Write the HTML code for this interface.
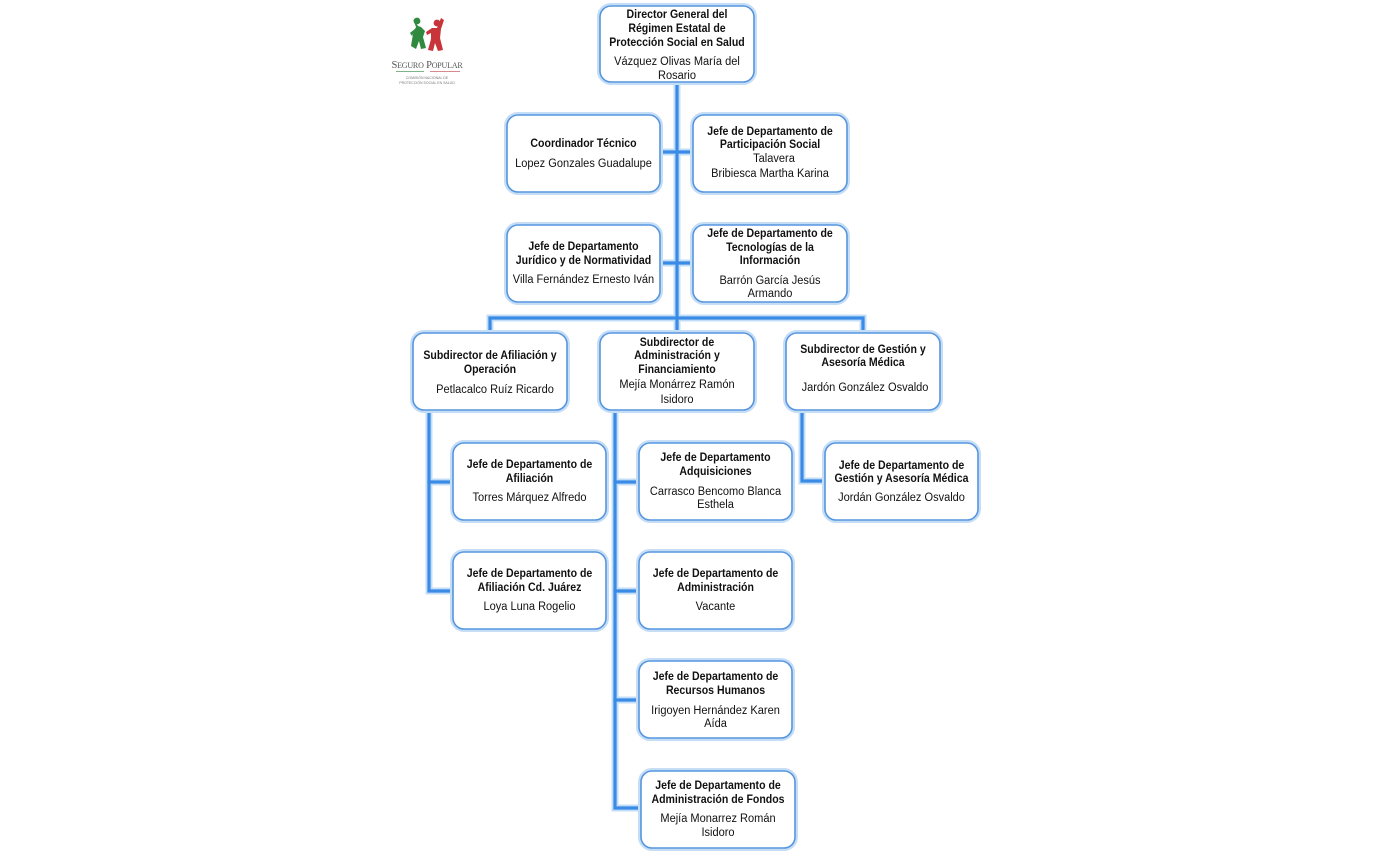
<!DOCTYPE html>
<html>
<head>
<meta charset="utf-8">
<style>
html,body{margin:0;padding:0;background:#fff;}
svg{display:block;}
.b{font-family:"Liberation Sans",Arial,sans-serif;font-weight:bold;font-size:12px;fill:#111;text-anchor:middle;}
.r{font-family:"Liberation Sans",Arial,sans-serif;font-size:12px;fill:#111;text-anchor:middle;}
.glow{fill:none;stroke:#c3dcf7;stroke-width:7;stroke-linecap:square;}
.core{fill:none;stroke:#3a8be6;stroke-width:3.2;stroke-linecap:square;}
.bg{fill:#fff;stroke:#c6ddf6;stroke-width:6;}
.bx{fill:#fff;stroke:#5596df;stroke-width:1.6;}
</style>
</head>
<body>
<svg width="1392" height="854" viewBox="0 0 1392 854" xmlns="http://www.w3.org/2000/svg">
<!-- logo -->
<g>
  <circle cx="417" cy="21" r="3.4" fill="#2f8a3f"/>
  <path d="M413,19 L416,27 L413,34 L411,46 L416,49 L419,41 L421,49 L426,48 L423,37 L425,31 L421,27 L418,26 Z" fill="#2f8a3f"/>
  <path d="M416,28 L410,33 L412,36 Z" fill="#2f8a3f"/>
  <circle cx="437" cy="23" r="3.4" fill="#c7353b"/>
  <path d="M441,18 L444,20 L441,29 L440,38 L443,50 L438,51 L435,43 L433,51 L428,50 L431,39 L431,33 L427,35 L426,32 L432,28 L437,28 Z" fill="#c7353b"/>
  <text x="427" y="68" style="font-family:'Liberation Serif',serif;font-size:10.5px;fill:#555;text-anchor:middle;letter-spacing:-0.2px">S<tspan font-size="8">EGURO</tspan> P<tspan font-size="8">OPULAR</tspan></text>
  <line x1="396" y1="71.5" x2="424" y2="71.5" stroke="#7fb38a" stroke-width="1"/>
  <line x1="430" y1="71.5" x2="460" y2="71.5" stroke="#d98a8d" stroke-width="1"/>
  <text x="427" y="79" style="font-family:'Liberation Sans',sans-serif;font-size:3.5px;fill:#777;text-anchor:middle">COMISIÓN NACIONAL DE</text>
  <text x="427" y="84" style="font-family:'Liberation Sans',sans-serif;font-size:3.5px;fill:#777;text-anchor:middle">PROTECCIÓN SOCIAL EN SALUD</text>
</g>

<!-- connectors glow -->
<g class="glow">
  <path d="M677,82 V333"/>
  <path d="M660,152 H693"/>
  <path d="M660,263 H693"/>
  <path d="M490,333 V318 H863 V333"/>
  <path d="M429,410 V591 H453"/>
  <path d="M429,482 H453"/>
  <path d="M615,410 V808 H641"/>
  <path d="M615,482 H639"/>
  <path d="M615,591 H639"/>
  <path d="M615,700 H639"/>
  <path d="M802,410 V481 H825"/>
</g>
<g class="core">
  <path d="M677,82 V333"/>
  <path d="M660,152 H693"/>
  <path d="M660,263 H693"/>
  <path d="M490,333 V318 H863 V333"/>
  <path d="M429,410 V591 H453"/>
  <path d="M429,482 H453"/>
  <path d="M615,410 V808 H641"/>
  <path d="M615,482 H639"/>
  <path d="M615,591 H639"/>
  <path d="M615,700 H639"/>
  <path d="M802,410 V481 H825"/>
</g>

<!-- boxes glow -->
<g class="bg">
  <rect x="600" y="6" width="154" height="76" rx="11"/>
  <rect x="507" y="115" width="153" height="77" rx="11"/>
  <rect x="693" y="115" width="154" height="77" rx="11"/>
  <rect x="507" y="225" width="153" height="77" rx="11"/>
  <rect x="693" y="225" width="154" height="77" rx="11"/>
  <rect x="413" y="333" width="154" height="77" rx="11"/>
  <rect x="600" y="333" width="154" height="77" rx="11"/>
  <rect x="786" y="333" width="154" height="77" rx="11"/>
  <rect x="453" y="443" width="153" height="77" rx="11"/>
  <rect x="453" y="552" width="153" height="77" rx="11"/>
  <rect x="639" y="443" width="153" height="77" rx="11"/>
  <rect x="639" y="552" width="153" height="77" rx="11"/>
  <rect x="639" y="661" width="153" height="77" rx="11"/>
  <rect x="641" y="771" width="154" height="77" rx="11"/>
  <rect x="825" y="443" width="153" height="77" rx="11"/>
</g>
<g class="bx">
  <rect x="600" y="6" width="154" height="76" rx="11"/>
  <rect x="507" y="115" width="153" height="77" rx="11"/>
  <rect x="693" y="115" width="154" height="77" rx="11"/>
  <rect x="507" y="225" width="153" height="77" rx="11"/>
  <rect x="693" y="225" width="154" height="77" rx="11"/>
  <rect x="413" y="333" width="154" height="77" rx="11"/>
  <rect x="600" y="333" width="154" height="77" rx="11"/>
  <rect x="786" y="333" width="154" height="77" rx="11"/>
  <rect x="453" y="443" width="153" height="77" rx="11"/>
  <rect x="453" y="552" width="153" height="77" rx="11"/>
  <rect x="639" y="443" width="153" height="77" rx="11"/>
  <rect x="639" y="552" width="153" height="77" rx="11"/>
  <rect x="639" y="661" width="153" height="77" rx="11"/>
  <rect x="641" y="771" width="154" height="77" rx="11"/>
  <rect x="825" y="443" width="153" height="77" rx="11"/>
</g>

<!-- texts -->
<text class="b" transform="translate(677,18) scale(0.88,1)">Director General del</text>
<text class="b" transform="translate(677,32) scale(0.88,1)">Régimen Estatal de</text>
<text class="b" transform="translate(677,46) scale(0.88,1)">Protección Social en Salud</text>
<text class="r" transform="translate(677,65) scale(0.92,1)">Vázquez Olivas María del</text>
<text class="r" transform="translate(677,79) scale(0.92,1)">Rosario</text>

<text class="b" transform="translate(583.5,147) scale(0.88,1)">Coordinador Técnico</text>
<text class="r" transform="translate(583.5,167) scale(0.92,1)">Lopez Gonzales Guadalupe</text>

<text class="b" transform="translate(770,135) scale(0.88,1)">Jefe de Departamento de</text>
<text class="b" transform="translate(770,148) scale(0.88,1)">Participación Social</text>
<text class="r" transform="translate(774,162) scale(0.92,1)">Talavera</text>
<text class="r" transform="translate(770,177) scale(0.92,1)">Bribiesca Martha Karina</text>

<text class="b" transform="translate(583.5,250) scale(0.88,1)">Jefe de Departamento</text>
<text class="b" transform="translate(583.5,264) scale(0.88,1)">Jurídico y de Normatividad</text>
<text class="r" transform="translate(583.5,283) scale(0.92,1)">Villa Fernández Ernesto Iván</text>

<text class="b" transform="translate(770,237) scale(0.88,1)">Jefe de Departamento de</text>
<text class="b" transform="translate(770,251) scale(0.88,1)">Tecnologías de la</text>
<text class="b" transform="translate(770,264) scale(0.88,1)">Información</text>
<text class="r" transform="translate(770,284) scale(0.92,1)">Barrón García Jesús</text>
<text class="r" transform="translate(770,297) scale(0.92,1)">Armando</text>

<text class="b" transform="translate(490,359) scale(0.88,1)">Subdirector de Afiliación y</text>
<text class="b" transform="translate(490,373) scale(0.88,1)">Operación</text>
<text class="r" transform="translate(495,393) scale(0.92,1)">Petlacalco Ruíz Ricardo</text>

<text class="b" transform="translate(677,346) scale(0.88,1)">Subdirector de</text>
<text class="b" transform="translate(677,359) scale(0.88,1)">Administración y</text>
<text class="b" transform="translate(677,373) scale(0.88,1)">Financiamiento</text>
<text class="r" transform="translate(677,388) scale(0.92,1)">Mejía Monárrez Ramón</text>
<text class="r" transform="translate(677,403) scale(0.92,1)">Isidoro</text>

<text class="b" transform="translate(863,353) scale(0.88,1)">Subdirector de Gestión y</text>
<text class="b" transform="translate(863,366) scale(0.88,1)">Asesoría Médica</text>
<text class="r" transform="translate(865,391) scale(0.92,1)">Jardón González Osvaldo</text>

<text class="b" transform="translate(529.5,468) scale(0.88,1)">Jefe de Departamento de</text>
<text class="b" transform="translate(529.5,482) scale(0.88,1)">Afiliación</text>
<text class="r" transform="translate(529.5,501) scale(0.92,1)">Torres Márquez Alfredo</text>

<text class="b" transform="translate(529.5,577) scale(0.88,1)">Jefe de Departamento de</text>
<text class="b" transform="translate(529.5,591) scale(0.88,1)">Afiliación Cd. Juárez</text>
<text class="r" transform="translate(529.5,610) scale(0.92,1)">Loya Luna Rogelio</text>

<text class="b" transform="translate(715.5,461) scale(0.88,1)">Jefe de Departamento</text>
<text class="b" transform="translate(715.5,475) scale(0.88,1)">Adquisiciones</text>
<text class="r" transform="translate(715.5,495) scale(0.92,1)">Carrasco Bencomo Blanca</text>
<text class="r" transform="translate(715.5,508) scale(0.92,1)">Esthela</text>

<text class="b" transform="translate(715.5,577) scale(0.88,1)">Jefe de Departamento de</text>
<text class="b" transform="translate(715.5,591) scale(0.88,1)">Administración</text>
<text class="r" transform="translate(715.5,610) scale(0.92,1)">Vacante</text>

<text class="b" transform="translate(715.5,680) scale(0.88,1)">Jefe de Departamento de</text>
<text class="b" transform="translate(715.5,694) scale(0.88,1)">Recursos Humanos</text>
<text class="r" transform="translate(715.5,714) scale(0.92,1)">Irigoyen Hernández Karen</text>
<text class="r" transform="translate(715.5,727) scale(0.92,1)">Aída</text>

<text class="b" transform="translate(718,789) scale(0.88,1)">Jefe de Departamento de</text>
<text class="b" transform="translate(718,803) scale(0.88,1)">Administración de Fondos</text>
<text class="r" transform="translate(718,822) scale(0.92,1)">Mejía Monarrez Román</text>
<text class="r" transform="translate(718,836) scale(0.92,1)">Isidoro</text>

<text class="b" transform="translate(901.5,469) scale(0.88,1)">Jefe de Departamento de</text>
<text class="b" transform="translate(901.5,482) scale(0.88,1)">Gestión y Asesoría Médica</text>
<text class="r" transform="translate(901.5,501) scale(0.92,1)">Jordán González Osvaldo</text>
</svg>
</body>
</html>
